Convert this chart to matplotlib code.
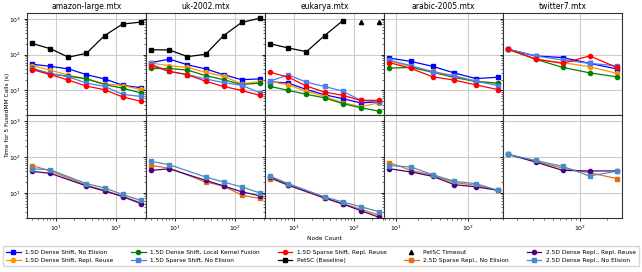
import numpy as np
import matplotlib
matplotlib.use("Agg")
import matplotlib.pyplot as plt
from matplotlib.lines import Line2D

# node counts per matrix
nodes_amazon = [4, 8, 16, 32, 64, 128, 256]
nodes_uk = [4, 8, 16, 32, 64, 128, 256]
nodes_euk = [4, 8, 16, 32, 64, 128, 256]
nodes_arabic = [8, 16, 32, 64, 128, 256]
nodes_twitter = [16, 32, 64, 128, 256]

nodes_amazon_25 = [4, 8, 32, 64, 128, 256]
nodes_uk_25 = [4, 8, 32, 64, 128, 256]
nodes_euk_25 = [4, 8, 32, 64, 128, 256]
nodes_arabic_25 = [8, 16, 32, 64, 128, 256]
nodes_twitter_25 = [16, 32, 64, 128, 256]

matrices = ["amazon-large.mtx", "uk-2002.mtx", "eukarya.mtx", "arabic-2005.mtx", "twitter7.mtx"]

# ---- top row: 1.5D algorithms + PetSC ----
dense_no_elision = [
    [54, 47, 40, 27.6, 21, 14, 11.9],
    [60, 75, 52, 40, 27.6, 20, 21],
    [17.5, 16, 10.6, 7.6, 5.9, 4.5, 4.8],
    [80, 64.5, 47, 30.8, 21.4, 23.4],
    [140, 92, 83, 57, 40],
]
dense_repl_reuse = [
    [49, 37, 26.6, 21.4, 15.3, 13.7, 10.7],
    [58, 49, 44, 32, 25, 15.3, 17.7],
    [17.7, 14.3, 9.4, 6.8, 4.6, 3.5, 4.5],
    [67, 45.8, 34, 26, 18, 16],
    [141, 75, 60, 46, 30],
]
dense_fusion = [
    [42, 28.8, 25, 21, 14.6, 11.6, 8.6],
    [41, 41, 37, 26, 20, 14.6, 16],
    [12.9, 10, 7.8, 6.2, 4.3, 3.3, 2.65],
    [42, 44, 32, 23, 17.7, 16],
    [141, 75, 44, 31, 24],
]
sparse_no_elision = [
    [39.6, 30, 24, 16, 12.9, 7.8, 6.8],
    [54, 34, 27.6, 21, 16.6, 14, 8.6],
    [18.5, 27, 17, 12.9, 9.6, 5.3, 4.8],
    [70, 49, 33, 25, 18.1, 13.7],
    [141, 92, 71, 57, 49],
]
sparse_repl_reuse = [
    [38, 27.6, 19.4, 13.2, 10.5, 6.6, 5.0],
    [49, 34, 27.6, 18.1, 12.9, 10, 7.3],
    [32, 23.4, 13.2, 9.0, 7.3, 5.3, 5.3],
    [60, 41, 24, 19.4, 14.3, 10.6],
    [141, 75, 57, 92, 44],
]
petsc = [
    [205, 146, 85, 109, 340, 713, 809],
    [137, 135, 88, 102, 340, 790, 1040],
    [200, 153, 121, 340, 880],
    None,
    None,
]
petsc_nodes_euk = [4, 8, 16, 32, 64]
timeout_nodes_euk = [128, 256]
timeout_vals_euk = [840, 840]

# ---- bottom row: 2.5D algorithms ----
sparse25_no_elision = [
    [58, 40.7, 16.3, 11.8, 8.0, 5.4],
    [58, 49, 20, 15.6, 8.6, 7.0],
    [25, 16.3, 7.0, 5.0, 3.5, 2.4],
    [69.5, 42.5, 30.8, 19.3, 16.3, 11.8],
    [118, 75.5, 49, 36.6, 25],
]
dense25_repl_reuse = [
    [39.8, 35, 15.6, 11.3, 7.9, 5.0],
    [42.5, 47, 22.4, 15.6, 10.7, 8.3],
    [27, 16.3, 7.3, 4.9, 3.2, 2.1],
    [47, 38.3, 28.9, 16.9, 14.7, 11.8],
    [118, 72.6, 42.5, 40.8, 41],
]
dense25_no_elision = [
    [47, 44, 18, 13.8, 9.0, 6.2],
    [75.5, 61, 27.8, 20, 14.7, 10],
    [28.9, 18, 7.7, 5.6, 4.1, 3.0],
    [58, 52.7, 32.2, 21, 18, 11.8],
    [118, 80.5, 55, 29.7, 40],
]

nodes_top = [nodes_amazon, nodes_uk, nodes_euk, nodes_arabic, nodes_twitter]
nodes_bot = [nodes_amazon_25, nodes_uk_25, nodes_euk_25, nodes_arabic_25, nodes_twitter_25]

top_series = [
    ("1.5D Dense Shift, No Elision", dense_no_elision, "#0000ff", "s"),
    ("1.5D Dense Shift, Repl. Reuse", dense_repl_reuse, "#ff9400", "o"),
    ("1.5D Dense Shift, Local Kernel Fusion", dense_fusion, "#008000", "o"),
    ("1.5D Sparse Shift, No Elision", sparse_no_elision, "#4f7cf0", "s"),
    ("1.5D Sparse Shift, Repl. Reuse", sparse_repl_reuse, "#ff0000", "o"),
]
bot_series = [
    ("2.5D Sparse Repl., No Elision", sparse25_no_elision, "#e0701e", "s"),
    ("2.5D Dense Repl., Repl. Reuse", dense25_repl_reuse, "#4b0082", "o"),
    ("2.5D Dense Repl., No Elision", dense25_no_elision, "#4a8cc4", "s"),
]

fs = 5.5      # titles
fs_small = 4.2  # legend / axis labels
plt.rcParams["font.size"] = fs

fig, axes = plt.subplots(2, 5, figsize=(6.42, 2.72), dpi=100, sharex="col", sharey=True)
fig.subplots_adjust(left=0.042, right=0.969, top=0.952, bottom=0.199, wspace=0, hspace=0)

lw = 0.9
ms = 3

for j in range(5):
    ax = axes[0, j]
    for label, data, color, marker in top_series:
        ax.plot(nodes_top[j], data[j], color=color, marker=marker, lw=lw, ms=ms)
    if petsc[j] is not None:
        n = nodes_top[j] if j != 2 else petsc_nodes_euk
        ax.plot(n, petsc[j], color="black", marker="s", lw=lw, ms=ms)
    if j == 2:
        ax.plot(timeout_nodes_euk, timeout_vals_euk, color="black", marker="^", ls="none", ms=ms)
    ax.set_title(matrices[j], fontsize=fs, pad=3)

    ax = axes[1, j]
    for label, data, color, marker in bot_series:
        ax.plot(nodes_bot[j], data[j], color=color, marker=marker, lw=lw, ms=ms)

for ax in axes.flat:
    ax.set_xscale("log")
    ax.set_yscale("log")
    ax.grid(True, which="major", color="#cccccc", lw=0.8)
    ax.set_axisbelow(True)
    ax.tick_params(which="major", labelsize=4.4, length=2.5, width=0.6, pad=1.5)
    ax.tick_params(which="minor", length=1.5, width=0.4)
    for s in ax.spines.values():
        s.set_linewidth(0.8)
        s.set_color("#333333")

axes[0, 0].set_ylim(2.0, 1450)

fig.text(0.012, 0.575, "Time for 5 FusedMM Calls (s)", rotation=90, ha="center", va="center", fontsize=fs_small)
fig.text(0.505, 0.125, "Node Count", ha="center", va="center", fontsize=fs_small)

handles = []
labels = []
for label, data, color, marker in top_series:
    handles.append(Line2D([], [], color=color, marker=marker, lw=lw, ms=ms))
    labels.append(label)
handles.append(Line2D([], [], color="black", marker="s", lw=lw, ms=ms))
labels.append("PetSC (Baseline)")
handles.append(Line2D([], [], color="black", marker="^", ls="none", ms=ms))
labels.append("PetSC Timeout")
for label, data, color, marker in bot_series:
    handles.append(Line2D([], [], color=color, marker=marker, lw=lw, ms=ms))
    labels.append(label)

fig.legend(handles, labels, loc="lower center", bbox_to_anchor=(0.5, 0.01), ncol=5,
           fontsize=fs_small, frameon=True, handlelength=2.5, columnspacing=3.0,
           borderpad=0.6, labelspacing=0.5, edgecolor="#cccccc", fancybox=False)

fig.savefig("out.png", dpi=100)
